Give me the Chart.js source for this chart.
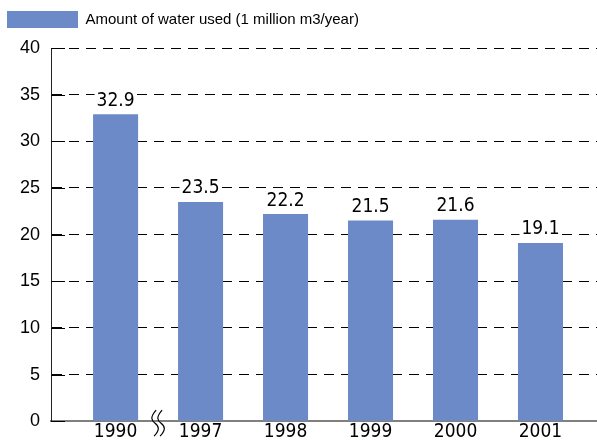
<!DOCTYPE html>
<html>
<head>
<meta charset="utf-8">
<script src="https://cdn.jsdelivr.net/npm/chart.js@4/dist/chart.umd.min.js"></script>
<style>
html,body{margin:0;padding:0;background:#fff;}
#wrap{width:597px;height:443px;position:relative;}
</style>
</head>
<body>
<div id="wrap"><canvas id="c" width="597" height="443"></canvas></div>
<script>
const categories = ['1990', '1997', '1998', '1999', '2000', '2001'];
const waterUsed = [32.9, 23.5, 22.2, 21.5, 21.6, 19.1];
const yTicks = [0, 5, 10, 15, 20, 25, 30, 35, 40];
const seriesLabel = 'Amount of water used (1 million m3/year)';

const barColor = '#6c8ac8';
const condFont = "'DejaVu Sans Condensed', 'DejaVu Sans', sans-serif";
const sansFont = "'Liberation Sans', Arial, sans-serif";

const points = waterUsed.map((v, i) => ({ x: i, y: v }));

const spacer = {
  id: 'spacer',
  beforeInit(chart) {
    const box = {
      position: 'top', weight: 0, fullSize: true, options: {},
      width: 0, height: 0, top: 0, left: 0, right: 0, bottom: 0,
      isHorizontal() { return true; },
      update(maxWidth) { this.width = maxWidth; this.height = 10; },
      draw() {}
    };
    Chart.layouts.addBox(chart, box);
  }
};

const extras = {
  id: 'extras',
  afterDraw(chart) {
    const ctx = chart.ctx;
    const xs = chart.scales.x, ys = chart.scales.y;
    const area = chart.chartArea;
    ctx.save();
    ctx.strokeStyle = '#000';
    ctx.lineWidth = 1;
    yTicks.forEach(t => {
      const py = Math.round(ys.getPixelForValue(t)) + 0.5;
      ctx.beginPath();
      ctx.moveTo(area.left, py);
      ctx.lineTo(area.left + 14, py);
      ctx.stroke();
    });
    const meta = chart.getDatasetMeta(0);
    ctx.font = '19px ' + condFont;
    ctx.textAlign = 'center';
    ctx.textBaseline = 'bottom';
    meta.data.forEach((el, i) => {
      const txt = waterUsed[i].toFixed(1);
      const w = ctx.measureText(txt).width;
      ctx.fillStyle = '#fff';
      ctx.fillRect(el.x - w / 2 - 2, el.y - 25, w + 4, 18);
      ctx.fillStyle = '#000';
      ctx.fillText(txt, el.x, el.y - 4);
    });
    const bx = xs.getPixelForValue(0.5);
    const by = ys.getPixelForValue(0) + 2;
    ctx.strokeStyle = '#000';
    ctx.lineWidth = 1.2;
    [-3, 3].forEach(dx => {
      const x0 = bx + dx;
      ctx.beginPath();
      ctx.moveTo(x0 + 1, by - 13);
      ctx.bezierCurveTo(x0 - 5, by - 6, x0 - 4, by - 3, x0, by);
      ctx.bezierCurveTo(x0 + 4, by + 3, x0 + 5, by + 7, x0 - 1, by + 13);
      ctx.stroke();
    });
    ctx.restore();
  }
};

new Chart(document.getElementById('c'), {
  type: 'bar',
  data: {
    datasets: [{
      label: seriesLabel,
      data: points,
      backgroundColor: barColor,
      borderWidth: 0,
      barPercentage: 0.53,
      categoryPercentage: 1.0
    }]
  },
  options: {
    responsive: false,
    animation: false,
    devicePixelRatio: 1,
    layout: { padding: { left: 0, right: 0, top: 4, bottom: 0 } },
    plugins: {
      legend: {
        display: true,
        position: 'top',
        align: 'start',
        labels: {
          boxWidth: 71,
          boxHeight: 17,
          padding: 7,
          color: '#000',
          font: { family: sansFont, size: 15 }
        }
      },
      tooltip: { enabled: false }
    },
    scales: {
      x: {
        type: 'linear',
        min: -0.76,
        max: 5.665,
        offset: false,
        afterBuildTicks(scale) {
          scale.ticks = categories.map((c, i) => ({ value: i }));
        },
        ticks: {
          color: '#000',
          padding: 3,
          autoSkip: false,
          maxRotation: 0,
          font: { family: condFont, size: 19, lineHeight: 0.8 },
          callback: (v) => categories[v] !== undefined ? categories[v] : ''
        },
        grid: { display: false, drawTicks: false },
        border: { display: true, color: '#808080', width: 2 }
      },
      y: {
        min: 0,
        max: 40,
        afterBuildTicks(scale) {
          scale.ticks = yTicks.map(v => ({ value: v }));
        },
        afterFit(scale) { scale.width = 51; },
        ticks: {
          color: '#000',
          padding: 11,
          font: { family: sansFont, size: 18 }
        },
        grid: {
          drawTicks: false,
          color: (c) => c.tick && c.tick.value === 0 ? 'rgba(0,0,0,0)' : '#000',
          lineWidth: 1
        },
        border: { display: true, color: '#222', width: 1, dash: [10, 7] }
      }
    }
  },
  plugins: [spacer, extras]
});
</script>
</body>
</html>
